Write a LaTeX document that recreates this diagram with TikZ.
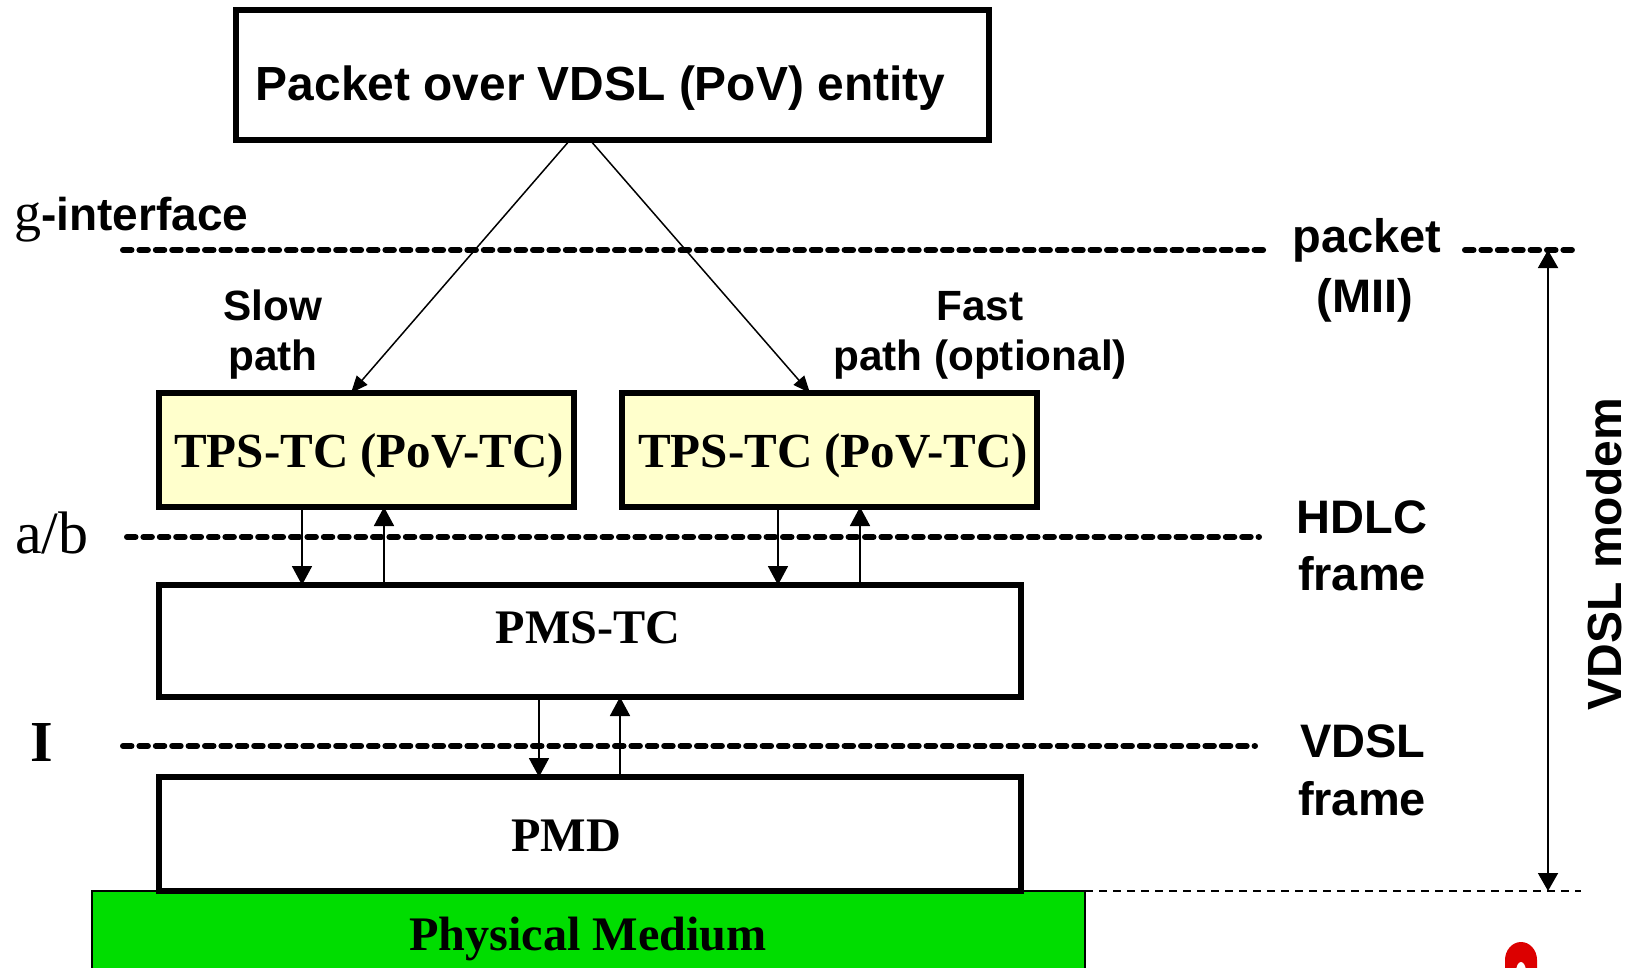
\documentclass[tikz,border=0pt]{standalone}
\usepackage{fontspec}
\setmainfont{Liberation Serif}
\setsansfont{Liberation Sans}
\usetikzlibrary{arrows.meta}
\definecolor{tpsyellow}{RGB}{255,255,204}
\definecolor{medgreen}{RGB}{0,221,0}
\definecolor{logored}{RGB}{220,0,0}
\begin{document}
\begin{tikzpicture}[x=1pt,y=-1pt,
  box/.style={draw, line width=5.5pt, inner sep=0pt, outer sep=0pt},
  tps/.style={box, fill=tpsyellow, minimum width=415pt, minimum height=114pt},
  sflbl/.style={font=\fontsize{47}{56}\selectfont\sffamily\bfseries, inner sep=0pt, anchor=base},
  rmlbl/.style={font=\fontsize{48.2}{56}\selectfont\rmfamily\bfseries, inner sep=0pt, anchor=base},
  pathlbl/.style={font=\fontsize{42.3}{50}\selectfont\sffamily\bfseries, inner sep=0pt, anchor=base},
  layer/.style={line width=6pt, dash pattern=on 8.5pt off 7.9pt, line cap=round},
  conn/.style={line width=1.8pt, -{Triangle[length=19pt,width=20pt]}},
  slant/.style={line width=1.5pt, -{Triangle[length=17pt,width=14pt]}}
]
\useasboundingbox (0,0) rectangle (1629,968);

% physical medium
\fill[medgreen] (92,891) rectangle (1085,980);
\draw[line width=1.5pt] (92,980) -- (92,891) -- (1085,891) -- (1085,980);
\node[rmlbl] (medium) at (588,950) {Physical Medium};

% boxes
\node[box, minimum width=753pt, minimum height=130pt] (pov) at (612.5,75) {};
\node[sflbl, font=\fontsize{47.9}{56}\selectfont\sffamily\bfseries] (povtext) at (600.5,101) {Packet over VDSL (PoV) entity};

\node[tps] (tpsL) at (366.5,450) {};
\node[rmlbl, font=\fontsize{49}{56}\selectfont\rmfamily\bfseries] (tpsLtext) at (369,467) {TPS-TC (PoV-TC)};
\node[tps] (tpsR) at (829.5,450) {};
\node[rmlbl, font=\fontsize{49}{56}\selectfont\rmfamily\bfseries] (tpsRtext) at (833,467) {TPS-TC (PoV-TC)};

\node[box, minimum width=862pt, minimum height=112pt] (pms) at (590,641) {};
\node[rmlbl] (pmstext) at (588,643) {PMS-TC};

\node[box, minimum width=862pt, minimum height=114pt] (pmd) at (590,834) {};
\node[rmlbl] (pmdtext) at (566,851) {PMD};

% layer lines
\draw[layer] (123,250) -- (1270,250);
\draw[layer] (1465,250) -- (1575,250);
\draw[layer] (127,537) -- (1259,537);
\draw[layer] (123,746) -- (1255,746);

% left labels
\node[inner sep=0pt, anchor=base west] (gif) at (14,231)
  {{\fontsize{54}{60}\selectfont\rmfamily g}{\fontsize{46}{56}\selectfont\sffamily\bfseries -interface}};
\node[inner sep=0pt, anchor=base west, font=\fontsize{60}{66}\selectfont\rmfamily] (ab) at (15,553) {a/b};
\node[inner sep=0pt, anchor=base, font=\fontsize{58}{64}\selectfont\rmfamily\bfseries] (iif) at (42,761) {I};

% path labels
\node[pathlbl] (slow1) at (273,320) {Slow};
\node[pathlbl] (slow2) at (273,370) {path};
\node[pathlbl] (fast1) at (980,320) {Fast};
\node[pathlbl] (fast2) at (980,370) {path (optional)};

% right labels
\node[sflbl] (pk1) at (1367,252) {packet};
\node[sflbl] (pk2) at (1365,312) {(MII)};
\node[sflbl] (hd1) at (1362,533) {HDLC};
\node[sflbl] (hd2) at (1362,590) {frame};
\node[sflbl] (vf1) at (1363,757) {VDSL};
\node[sflbl] (vf2) at (1362,815) {frame};
\node[font=\fontsize{48}{56}\selectfont\sffamily\bfseries, inner sep=0pt, anchor=base, rotate=90] (modem) at (1621,554) {VDSL modem};

% connectors
\draw[slant] ([xshift=-42.5pt]pov.south) -- ([xshift=-15.5pt]tpsL.north);
\draw[slant] ([xshift=-22.5pt]pov.south) -- ([xshift=-19.5pt]tpsR.north);

\draw[conn] ([xshift=-64.5pt]tpsL.south) -- ([xshift=-288pt]pms.north);
\draw[conn] ([xshift=-206pt]pms.north) -- ([xshift=17.5pt]tpsL.south);
\draw[conn] ([xshift=-51.5pt]tpsR.south) -- ([xshift=188pt]pms.north);
\draw[conn] ([xshift=270pt]pms.north) -- ([xshift=30.5pt]tpsR.south);

\draw[conn] ([xshift=-51pt]pms.south) -- ([xshift=-51pt]pmd.north);
\draw[conn] ([xshift=30pt]pmd.north) -- ([xshift=30pt]pms.south);

% modem extent
\coordinate (mtop) at (1548,250);
\coordinate (mbot) at (1548,891);
\draw[line width=1.5pt, dash pattern=on 8pt off 6pt] (1085,891) -- (1581,891);
\draw[line width=1.8pt, {Triangle[length=18pt,width=20pt]}-{Triangle[length=18pt,width=20pt]}] (mtop) -- (mbot);

% logo fragment
\fill[logored] (1505,968) -- (1505,960) arc[start angle=180, end angle=360, x radius=16, y radius=18] -- (1537,968) -- cycle;
\fill[white] (1521,972) ellipse[x radius=5, y radius=10];
\end{tikzpicture}
\end{document}
